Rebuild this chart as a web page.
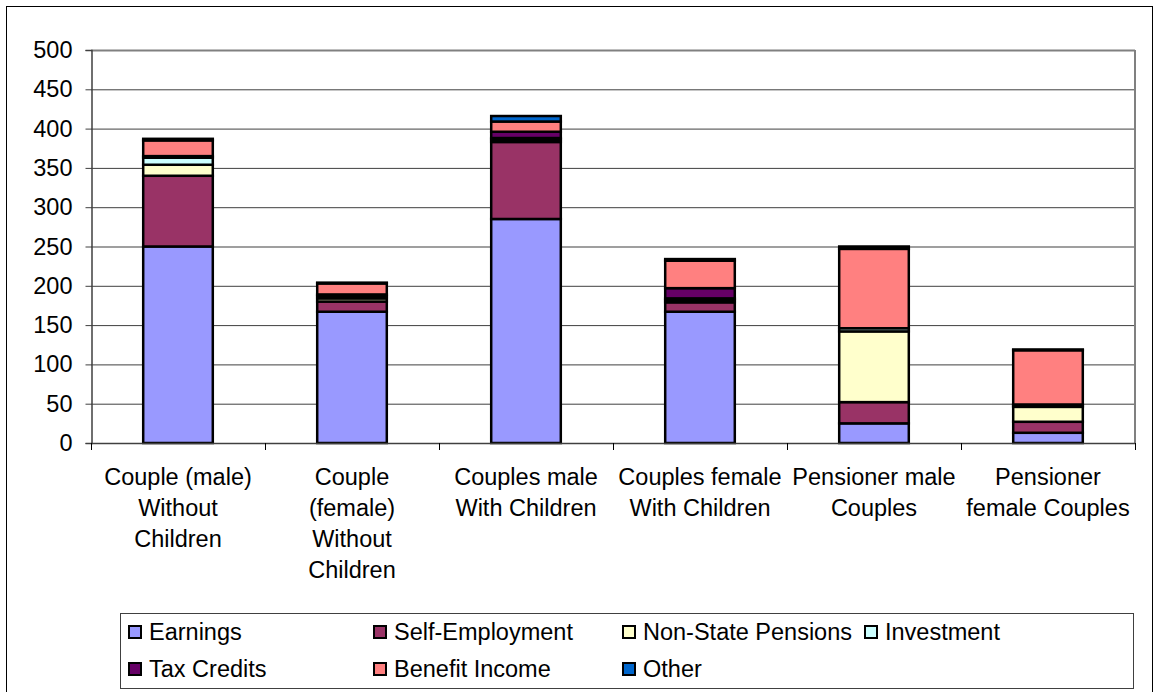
<!DOCTYPE html>
<html>
<head>
<meta charset="utf-8">
<script src="https://cdn.jsdelivr.net/npm/d3@7"></script>
<style>
  body { margin: 0; background: #fff; }
  text { font-family: 'Liberation Sans', Arial, sans-serif; }
</style>
</head>
<body>
<div id="chart-1"></div>
<script>
// categories (lines of each label)
let categories = [
  ['Couple (male)', 'Without', 'Children'],
  ['Couple', '(female)', 'Without', 'Children'],
  ['Couples male', 'With Children'],
  ['Couples female', 'With Children'],
  ['Pensioner male', 'Couples'],
  ['Pensioner', 'female Couples']
]

let seriesNames = ['Earnings', 'Self-Employment', 'Non-State Pensions', 'Investment', 'Tax Credits', 'Benefit Income', 'Other']
let seriesColors = ['#9999FF', '#993366', '#FFFFCC', '#CCFFFF', '#660066', '#FF8080', '#0066CC']

let earnings = [250, 167, 285, 167, 25, 13]
let selfEmployment = [90, 13, 98, 12, 27, 14]
let nonStatePensions = [14, 4, 3, 3, 90, 19]
let investment = [9, 3, 2, 2, 4, 1]
let taxCredits = [2, 2, 8, 13, 0, 2]
let benefitIncome = [20, 14, 13, 35, 101, 69]
let other = [2, 1, 7, 2, 3, 1]

let yTicks = [0, 50, 100, 150, 200, 250, 300, 350, 400, 450, 500]

let allSeries = [earnings, selfEmployment, nonStatePensions, investment, taxCredits, benefitIncome, other]

let table = categories.map((c, i) => {
  let row = { idx: i }
  seriesNames.forEach((s, j) => { row[s] = allSeries[j][i] })
  return row
})

let width = 1154
let height = 692
let plot = { left: 91, right: 1135, top: 50, bottom: 443 }
let fontSize = 23.5

let svg = d3
  .select('#chart-1')
  .append('svg')
  .attr('width', width)
  .attr('height', height)

// outer frame
svg
  .append('rect')
  .attr('x', 6.5)
  .attr('y', 6.5)
  .attr('width', 1146)
  .attr('height', 700)
  .attr('fill', 'none')
  .attr('stroke', '#000')
  .attr('stroke-width', 1)

let xPositionScale = d3
  .scaleBand()
  .domain(d3.range(categories.length))
  .range([plot.left, plot.right])
  .paddingInner(0.6)
  .paddingOuter(0.3)

let yPositionScale = d3
  .scaleLinear()
  .domain([0, 500])
  .range([plot.bottom, plot.top])

// gridlines
svg
  .append('g')
  .selectAll('line')
  .data(yTicks.filter(d => d > 0))
  .enter()
  .append('line')
  .attr('x1', plot.left)
  .attr('x2', plot.right)
  .attr('y1', d => yPositionScale(d) + 0.5)
  .attr('y2', d => yPositionScale(d) + 0.5)
  .attr('stroke', d => (d === 500 ? '#808080' : '#000'))
  .attr('stroke-width', d => (d === 500 ? 2 : 1))
  .attr('opacity', d => (d === 500 ? 1 : 0.75))

// right border of plot area
svg
  .append('line')
  .attr('x1', plot.right)
  .attr('x2', plot.right)
  .attr('y1', plot.top)
  .attr('y2', plot.bottom)
  .attr('stroke', '#808080')
  .attr('stroke-width', 2)

// y axis
let yAxis = d3
  .axisLeft(yPositionScale)
  .tickValues(yTicks)
  .tickSize(6)
  .tickPadding(13)

svg
  .append('g')
  .attr('transform', 'translate(' + (plot.left + 0.5) + ',0)')
  .call(yAxis)
  .call(g => g.selectAll('.domain').attr('stroke', '#404040').attr('stroke-width', 1.5))
  .call(g => g.selectAll('.tick line').attr('stroke', '#404040'))
  .call(g => g.selectAll('text').attr('font-size', fontSize).attr('fill', '#000').style('font-family', "'Liberation Sans', Arial, sans-serif"))

// stacked bars
let stack = d3.stack().keys(seriesNames)
let stacked = stack(table)

let layers = svg
  .append('g')
  .selectAll('g')
  .data(stacked)
  .enter()
  .append('g')
  .attr('fill', (d, i) => seriesColors[i])

layers
  .selectAll('rect')
  .data(d => d.filter(p => p[1] - p[0] > 0))
  .enter()
  .append('rect')
  .attr('x', d => xPositionScale(d.data.idx))
  .attr('width', xPositionScale.bandwidth())
  .attr('y', d => yPositionScale(d[1]))
  .attr('height', d => yPositionScale(d[0]) - yPositionScale(d[1]))
  .attr('stroke', '#000')
  .attr('stroke-width', 2.5)

// x axis line + category ticks
let step = (plot.right - plot.left) / categories.length
svg
  .append('line')
  .attr('x1', plot.left)
  .attr('x2', plot.right)
  .attr('y1', plot.bottom + 0.5)
  .attr('y2', plot.bottom + 0.5)
  .attr('stroke', '#404040')
  .attr('stroke-width', 1.5)

svg
  .append('g')
  .selectAll('line')
  .data(d3.range(categories.length + 1))
  .enter()
  .append('line')
  .attr('x1', d => plot.left + d * step + 0.5)
  .attr('x2', d => plot.left + d * step + 0.5)
  .attr('y1', plot.bottom)
  .attr('y2', plot.bottom + 7)
  .attr('stroke', '#000')

// category labels
let catLabels = svg
  .append('g')
  .selectAll('text')
  .data(categories)
  .enter()
  .append('text')
  .attr('text-anchor', 'middle')
  .attr('font-size', fontSize)
  .attr('fill', '#000')

catLabels
  .selectAll('tspan')
  .data((d, i) => d.map(line => ({ line, i })))
  .enter()
  .append('tspan')
  .attr('x', d => xPositionScale(d.i) + xPositionScale.bandwidth() / 2)
  .attr('y', (d, j) => 485 + j * 31)
  .text(d => d.line)

// legend
let legend = svg.append('g')
legend
  .append('rect')
  .attr('x', 120.5)
  .attr('y', 613.5)
  .attr('width', 1013)
  .attr('height', 75)
  .attr('fill', '#fff')
  .attr('stroke', '#404040')
  .attr('stroke-width', 1)

let legendCols = [128, 373, 622, 864]
let legendItems = legend
  .selectAll('g.item')
  .data(seriesNames)
  .enter()
  .append('g')
  .attr('class', 'item')
  .attr('transform', (d, i) => {
    let col = i < 4 ? i : i - 4
    let row = i < 4 ? 0 : 1
    return 'translate(' + legendCols[col] + ',' + (632 + row * 37) + ')'
  })

legendItems
  .append('rect')
  .attr('x', 1)
  .attr('y', -6)
  .attr('width', 12)
  .attr('height', 12)
  .attr('fill', (d, i) => seriesColors[i])
  .attr('stroke', '#000')
  .attr('stroke-width', 2)

legendItems
  .append('text')
  .attr('x', 21)
  .attr('y', 8)
  .attr('font-size', fontSize)
  .attr('fill', '#000')
  .text(d => d)
</script>
</body>
</html>
